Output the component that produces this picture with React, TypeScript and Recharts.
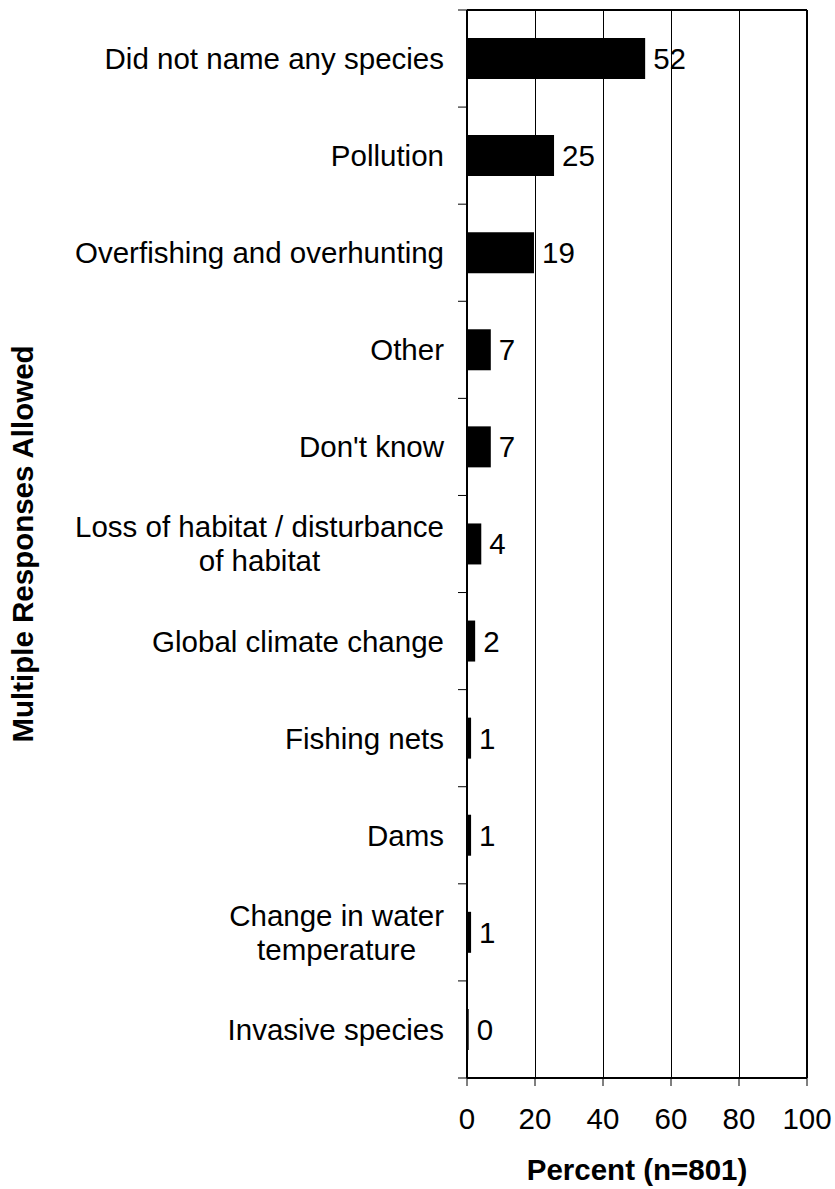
import { BarChart, Bar, XAxis, YAxis, CartesianGrid, LabelList, ReferenceLine } from "recharts";

// categories, top to bottom
const categories = [
  "Did not name any species",
  "Pollution",
  "Overfishing and overhunting",
  "Other",
  "Don't know",
  "Loss of habitat / disturbance\nof habitat",
  "Global climate change",
  "Fishing nets",
  "Dams",
  "Change in water\ntemperature",
  "Invasive species",
];
const percents = [52.4, 25.6, 19.7, 7, 7, 4.2, 2.4, 1.2, 1.2, 1.2, 0.5];
const valueLabels = [52, 25, 19, 7, 7, 4, 2, 1, 1, 1, 0];
const xTicks = [0, 20, 40, 60, 80, 100];

const FONT = "'Liberation Sans', Arial, sans-serif";
const FONT_SIZE = 29.5;
const TICK_SIZE = 9;
const TICK_MARGIN = 14;

const data = categories.map((name, i) => ({ name, value: percents[i], label: valueLabels[i] }));

const measureCtx = typeof document !== "undefined" ? document.createElement("canvas").getContext("2d") : null;
function textWidth(s: string) {
  if (!measureCtx) return s.length * FONT_SIZE * 0.5;
  measureCtx.font = `${FONT_SIZE}px 'Liberation Sans'`;
  return measureCtx.measureText(s).width;
}

// category label plus the little tick marks sitting between categories
function CategoryTick(props: any) {
  const { x, y, payload, index, visibleTicksCount } = props;
  const lines = String(payload.value).split("\n");
  const lineHeight = 34;
  const single = lines.length === 1;
  const block = Math.max(...lines.map(textWidth));
  const cx = single ? x : x - block / 2;
  const axisX = x + TICK_MARGIN + TICK_SIZE;
  const half = payload.offset;
  const isLast = index === visibleTicksCount - 1;
  return (
    <g>
      {half != null && (
        <line x1={axisX} x2={axisX - TICK_SIZE} y1={y - half} y2={y - half} stroke="#000" />
      )}
      {half != null && isLast && (
        <line x1={axisX} x2={axisX - TICK_SIZE} y1={y + half} y2={y + half} stroke="#000" />
      )}
      {lines.map((line, i) => (
        <text
          key={i}
          x={cx}
          y={y + (i - (lines.length - 1) / 2) * lineHeight}
          dy="0.355em"
          textAnchor={single ? "end" : "middle"}
          fontSize={FONT_SIZE}
          fontFamily={FONT}
          fill="#000"
        >
          {line}
        </text>
      ))}
    </g>
  );
}

function YTitle(props: any) {
  const vb = props.viewBox || { y: 10, height: 1068 };
  const cy = vb.y + vb.height / 2;
  return (
    <text
      x={33}
      y={cy}
      transform={`rotate(-90 33 ${cy})`}
      textAnchor="middle"
      fontSize={FONT_SIZE}
      fontWeight="bold"
      fontFamily={FONT}
      fill="#000"
    >
      Multiple Responses Allowed
    </text>
  );
}

export default function App() {
  return (
    <div style={{ position: "absolute", left: 0, top: 0, background: "#fff" }}>
      <BarChart
        layout="vertical"
        width={835}
        height={1189}
        data={data}
        margin={{ top: 9, right: 28, bottom: 0, left: 0 }}
        barSize={41}
      >
        <CartesianGrid horizontal={false} stroke="#000" strokeWidth={1} shapeRendering="crispEdges" />
        <XAxis
          type="number"
          domain={[0, 100]}
          ticks={xTicks}
          interval={0}
          height={111}
          tickSize={8}
          tickMargin={22}
          axisLine={{ stroke: "#000", strokeWidth: 2 }}
          tickLine={{ stroke: "#000" }}
          tick={{ fill: "#000", fontSize: FONT_SIZE, fontFamily: FONT }}
          label={{
            value: "Percent (n=801)",
            position: "insideBottom",
            offset: 9,
            fill: "#000",
            fontSize: FONT_SIZE,
            fontWeight: "bold",
            fontFamily: FONT,
          }}
        />
        <XAxis
          xAxisId="top"
          orientation="top"
          type="number"
          domain={[0, 100]}
          height={1}
          tick={false}
          tickLine={false}
          axisLine={{ stroke: "#000", strokeWidth: 2 }}
        />
        <YAxis
          type="category"
          dataKey="name"
          width={467}
          interval={0}
          tickSize={TICK_SIZE}
          tickMargin={TICK_MARGIN}
          tickLine={false}
          axisLine={{ stroke: "#000", strokeWidth: 2 }}
          tick={<CategoryTick />}
          label={{ content: <YTitle /> }}
        />
        <ReferenceLine x={100} stroke="#000" strokeWidth={2} />
        <Bar dataKey="value" fill="#000" isAnimationActive={false}>
          <LabelList
            dataKey="label"
            position="right"
            offset={8}
            fill="#000"
            fontSize={FONT_SIZE}
            fontFamily={FONT}
          />
        </Bar>
      </BarChart>
    </div>
  );
}
